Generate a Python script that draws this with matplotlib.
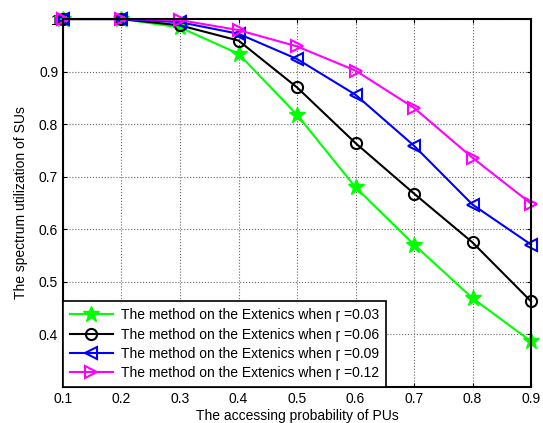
import numpy as np
import matplotlib.pyplot as plt

plt.rcParams['font.family'] = ['Liberation Sans', 'DejaVu Sans']

x = [0.1, 0.2, 0.3, 0.4, 0.5, 0.6, 0.7, 0.8, 0.9]
y_003 = [1.0, 1.0, 0.984, 0.934, 0.818, 0.680, 0.571, 0.469, 0.387]
y_006 = [1.0, 1.0, 0.988, 0.959, 0.870, 0.764, 0.668, 0.575, 0.463]
y_009 = [1.0, 1.0, 0.994, 0.972, 0.924, 0.856, 0.759, 0.647, 0.571]
y_012 = [1.0, 1.0, 0.998, 0.979, 0.948, 0.902, 0.831, 0.736, 0.649]

labels = ['The method on the Extenics when \u027c =0.03',
          'The method on the Extenics when \u027c =0.06',
          'The method on the Extenics when \u027c =0.09',
          'The method on the Extenics when \u027c =0.12']

fig = plt.figure(figsize=(5.43, 4.23), dpi=100)
ax = fig.add_axes([0.116, 0.085, 0.862, 0.870])

ax.plot(x, y_003, color='#00ff00', marker='*', markersize=12, lw=1.5, label=labels[0], clip_on=False)
ax.plot(x, y_006, color='black', marker='o', markersize=8, mfc='none', mew=1.5, lw=1.5, label=labels[1], clip_on=False)
ax.plot(x, y_009, color='blue', marker='<', markersize=9, mfc='none', mew=1.5, lw=1.5, label=labels[2], clip_on=False)
ax.plot(x, y_012, color='magenta', marker='>', markersize=9, mfc='none', mew=1.5, lw=1.5, label=labels[3], clip_on=False)

ax.set_xlim(0.1, 0.9)
ax.set_ylim(0.3, 1.0)
ax.set_xticks(x)
ax.set_xticklabels(['0.1', '0.2', '0.3', '0.4', '0.5', '0.6', '0.7', '0.8', '0.9'])
ax.set_yticks([0.4, 0.5, 0.6, 0.7, 0.8, 0.9, 1.0])
ax.set_yticklabels(['0.4', '0.5', '0.6', '0.7', '0.8', '0.9', '1'])
ax.tick_params(direction='in', top=True, right=True, labelsize=10, length=3)
ax.grid(True, linestyle=':', color='#666666', lw=0.8)
for s in ax.spines.values():
    s.set_linewidth(1.5)

ax.set_xlabel('The accessing probability of PUs', fontsize=10, labelpad=2)
ax.set_ylabel('The spectrum utilization of SUs', fontsize=10, labelpad=8)

leg = ax.legend(loc='lower left', fontsize=10, borderaxespad=0, fancybox=False,
                edgecolor='black', framealpha=1, handlelength=3.1, handletextpad=0.6,
                labelspacing=0.38, borderpad=0.5)
leg.get_frame().set_linewidth(1.2)
leg.set_zorder(5)

fig.savefig('out.png', dpi=100)
